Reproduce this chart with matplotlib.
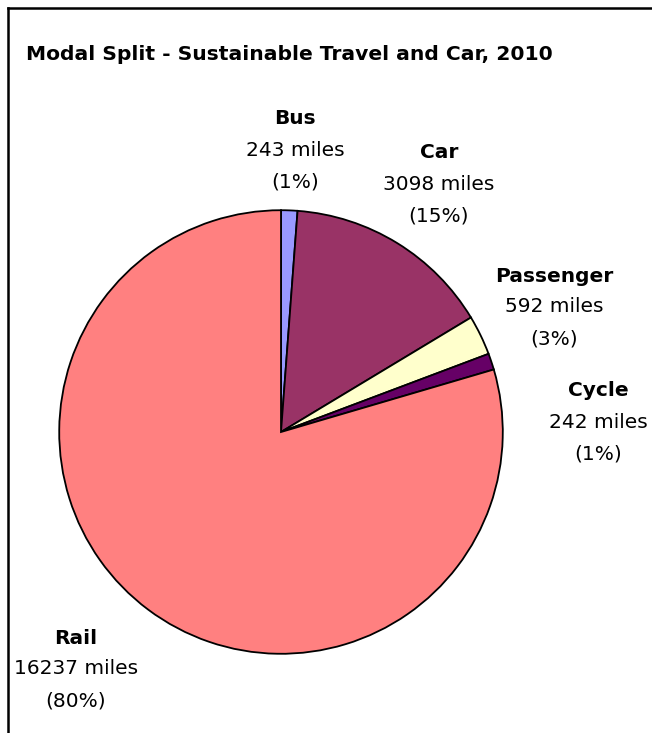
import matplotlib
matplotlib.use("Agg")
import matplotlib.pyplot as plt
from matplotlib.lines import Line2D

categories = ["Bus", "Car", "Passenger", "Cycle", "Rail"]
miles = [243, 3098, 592, 242, 16237]
percent_labels = ["(1%)", "(15%)", "(3%)", "(1%)", "(80%)"]
colors = ["#9999FF", "#993366", "#FFFFCC", "#660066", "#FF8080"]
title = "Modal Split - Sustainable Travel and Car, 2010"

# label anchor positions (pixel centres of the name line)
label_pos = [(295, 119), (439, 153), (554, 276), (598, 391), (76, 638)]

W, H = 652, 733
fig = plt.figure(figsize=(W / 100, H / 100), dpi=100)
plt.rcParams['font.family'] = ['DejaVu Sans']

cx, cy, r = 281, 432, 224
ax = fig.add_axes([(cx - r) / W, (H - cy - r) / H, 2 * r / W, 2 * r / H])
ax.pie(miles, colors=colors, startangle=90, counterclock=False, radius=1,
       wedgeprops=dict(edgecolor="black", linewidth=1.3))
ax.set_xlim(-1.01, 1.01)
ax.set_ylim(-1.01, 1.01)
ax.set_aspect("equal")
ax.axis("off")

# frame (left and top visible)
fig.add_artist(Line2D([7.5 / W, 7.5 / W], [0, 1 - 7.5 / H], color="black", lw=1.8,
                      transform=fig.transFigure))
fig.add_artist(Line2D([7.5 / W, 1], [1 - 7.5 / H, 1 - 7.5 / H], color="black", lw=1.8,
                      transform=fig.transFigure))

fig.text(26 / W, 1 - 55 / H, title, fontsize=14.6, fontweight="bold",
         ha="left", va="center")

for name, m, p, (x, y) in zip(categories, miles, percent_labels, label_pos):
    fig.text(x / W, 1 - y / H, name, fontsize=14.5, fontweight="bold",
             ha="center", va="center")
    fig.text(x / W, 1 - (y + 31) / H, f"{m} miles", fontsize=14.5,
             ha="center", va="center")
    fig.text(x / W, 1 - (y + 63) / H, p, fontsize=14.5,
             ha="center", va="center")

fig.savefig("out.png", dpi=100)
